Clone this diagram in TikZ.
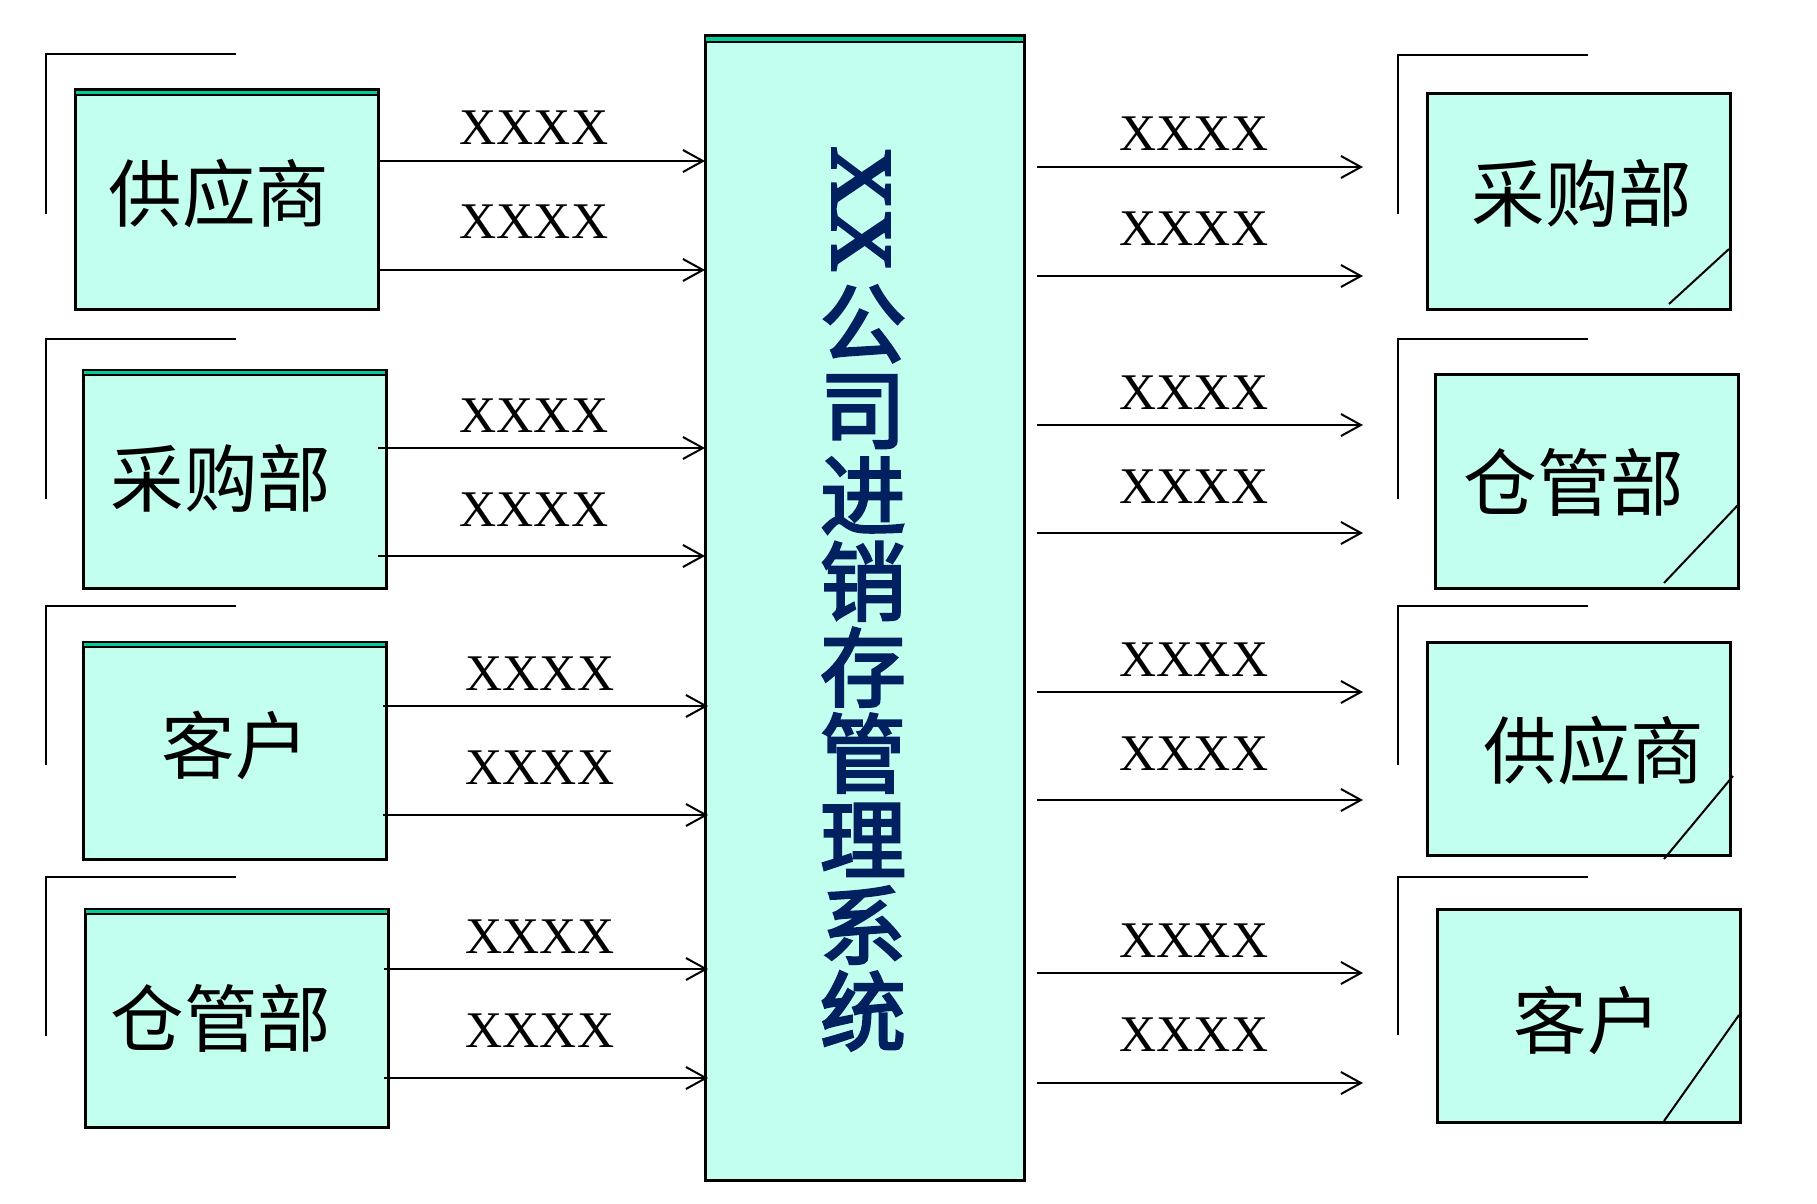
\documentclass[tikz,border=0pt]{standalone}
\usepackage{fontspec}
\setmainfont{Liberation Serif}
\newfontfamily\cjk{Noto Sans CJK SC}
\newfontfamily\cjkb{Noto Sans CJK SC}[FakeBold=3]
\newfontfamily\xxfont{Liberation Serif}[FakeBold=4]
\usetikzlibrary{arrows.meta}
\definecolor{boxfill}{HTML}{C2FFEE}
\definecolor{stripc}{HTML}{00CC99}
\definecolor{navy}{HTML}{002060}
\tikzset{
  box/.style={draw=black, fill=boxfill, line width=1.5pt, inner sep=0pt, outer sep=0pt, rectangle, minimum width=151.5pt},
  lbl/.style={font=\cjk\fontsize{36.8}{36.8}\selectfont, inner sep=0pt},
  flow/.style={draw=black, line width=1pt, -{Straight Barb[length=10pt,width=11pt]}},
  xl/.style={font=\fontsize{25.7}{25.7}\selectfont, inner sep=0pt, anchor=base},
  brk/.style={line width=0.9pt},
  curl/.style={line width=1pt},
  topstrip/.style={draw=black, line width=1pt, fill=stripc},
}
\begin{document}
\begin{tikzpicture}[x=0.5pt,y=-0.5pt]
\fill[white] (0,0) rectangle (1817,1204);
\useasboundingbox (0,0) rectangle (1817,1204);

% centre box
\node[box, minimum width=159.5pt, minimum height=572pt] (C) at (864.5,608) {};
\draw[topstrip] (C.north west) rectangle ([yshift=-3pt]C.north east);
\node[text=navy, font=\xxfont\fontsize{43}{43}\selectfont, inner sep=0pt] (tx) at (861,209) {\rotatebox{-90}{XX}};
\node[text=navy, font=\cjkb\fontsize{43}{43}\selectfont, align=center, inner sep=0pt] (tc) at (863,668) {公\\司\\进\\销\\存\\管\\理\\系\\统};

% left brackets
\draw[brk] (236,54) -- (46,54) -- (46,214);
\draw[brk] (236,339) -- (46,339) -- (46,499);
\draw[brk] (236,606) -- (46,606) -- (46,765);
\draw[brk] (236,877) -- (46,877) -- (46,1036);

% right brackets
\draw[brk] (1588,55) -- (1398,55) -- (1398,214);
\draw[brk] (1588,339) -- (1398,339) -- (1398,499);
\draw[brk] (1588,606) -- (1398,606) -- (1398,765);
\draw[brk] (1588,877) -- (1398,877) -- (1398,1035);

% left boxes
\node[box, minimum height=109.5pt] (L1) at (226.5,199.5) {};
\draw[topstrip] (L1.north west) rectangle ([yshift=-2.5pt]L1.north east);
\node[lbl] (L1t) at (219,193) {供应商};
\node[box, minimum height=109pt] (L2) at (234.5,479) {};
\draw[topstrip] (L2.north west) rectangle ([yshift=-2.5pt]L2.north east);
\node[lbl] (L2t) at (221,478) {采购部};
\node[box, minimum height=108.5pt] (L3) at (234.5,750.5) {};
\draw[topstrip] (L3.north west) rectangle ([yshift=-2.5pt]L3.north east);
\node[lbl] (L3t) at (235,745) {客户};
\node[box, minimum height=109pt] (L4) at (236.5,1018) {};
\draw[topstrip] (L4.north west) rectangle ([yshift=-2.5pt]L4.north east);
\node[lbl] (L4t) at (221,1018) {仓管部};

% right boxes
\node[box, minimum height=107.5pt] (R1) at (1578.5,201.5) {};
\draw[curl] (1669,304) -- (1729,249);
\node[lbl] (R1t) at (1582,193) {采购部};
\node[box, minimum height=107pt] (R2) at (1586.5,481) {};
\draw[curl] (1664,583) -- (1738,505);
\node[lbl] (R2t) at (1574,482) {仓管部};
\node[box, minimum height=106.5pt] (R3) at (1578.5,748.5) {};
\draw[curl] (1664,859) -- (1733,776);
\node[lbl] (R3t) at (1594,750) {供应商};
\node[box, minimum height=106.5pt] (R4) at (1588.5,1015.5) {};
\draw[curl] (1664,1121) -- (1739,1015);
\node[lbl] (R4t) at (1587,1020) {客户};

% left arrows
\draw[flow] (L1.east |- 0,161) -- (C.west |- 0,161);
\draw[flow] (L1.east |- 0,270) -- (C.west |- 0,270);
\draw[flow] ([xshift=-4pt]L2.east |- 0,448) -- (C.west |- 0,448);
\draw[flow] ([xshift=-4pt]L2.east |- 0,556) -- (C.west |- 0,556);
\draw[flow] ([xshift=-1.5pt]L3.east |- 0,706) -- ([xshift=1.5pt]C.west |- 0,706);
\draw[flow] ([xshift=-1.5pt]L3.east |- 0,815) -- ([xshift=1.5pt]C.west |- 0,815);
\draw[flow] ([xshift=-2pt]L4.east |- 0,969) -- ([xshift=1.5pt]C.west |- 0,969);
\draw[flow] ([xshift=-2pt]L4.east |- 0,1078) -- ([xshift=1.5pt]C.west |- 0,1078);

% right arrows
\draw[flow] ([xshift=6.5pt]C.east |- 0,167) -- ([xshift=-32pt]R1.west |- 0,167);
\draw[flow] ([xshift=6.5pt]C.east |- 0,276) -- ([xshift=-32pt]R1.west |- 0,276);
\draw[flow] ([xshift=6.5pt]C.east |- 0,425) -- ([xshift=-36pt]R2.west |- 0,425);
\draw[flow] ([xshift=6.5pt]C.east |- 0,533) -- ([xshift=-36pt]R2.west |- 0,533);
\draw[flow] ([xshift=6.5pt]C.east |- 0,692) -- ([xshift=-32pt]R3.west |- 0,692);
\draw[flow] ([xshift=6.5pt]C.east |- 0,800) -- ([xshift=-32pt]R3.west |- 0,800);
\draw[flow] ([xshift=6.5pt]C.east |- 0,973) -- ([xshift=-37pt]R4.west |- 0,973);
\draw[flow] ([xshift=6.5pt]C.east |- 0,1083) -- ([xshift=-37pt]R4.west |- 0,1083);

% labels left
\node[xl] (la1) at (534,145) {XXXX};
\node[xl] (la2) at (534,239) {XXXX};
\node[xl] (lb1) at (534,432) {XXXX};
\node[xl] (lb2) at (534,526) {XXXX};
\node[xl] (lc1) at (540,690) {XXXX};
\node[xl] (lc2) at (540,784) {XXXX};
\node[xl] (ld1) at (540,953) {XXXX};
\node[xl] (ld2) at (540,1047) {XXXX};
% labels right
\node[xl] (ra1) at (1194,151) {XXXX};
\node[xl] (ra2) at (1194,245) {XXXX};
\node[xl] (rb1) at (1194,409) {XXXX};
\node[xl] (rb2) at (1194,503) {XXXX};
\node[xl] (rc1) at (1194,676) {XXXX};
\node[xl] (rc2) at (1194,770) {XXXX};
\node[xl] (rd1) at (1194,957) {XXXX};
\node[xl] (rd2) at (1194,1051) {XXXX};
\end{tikzpicture}
\end{document}
